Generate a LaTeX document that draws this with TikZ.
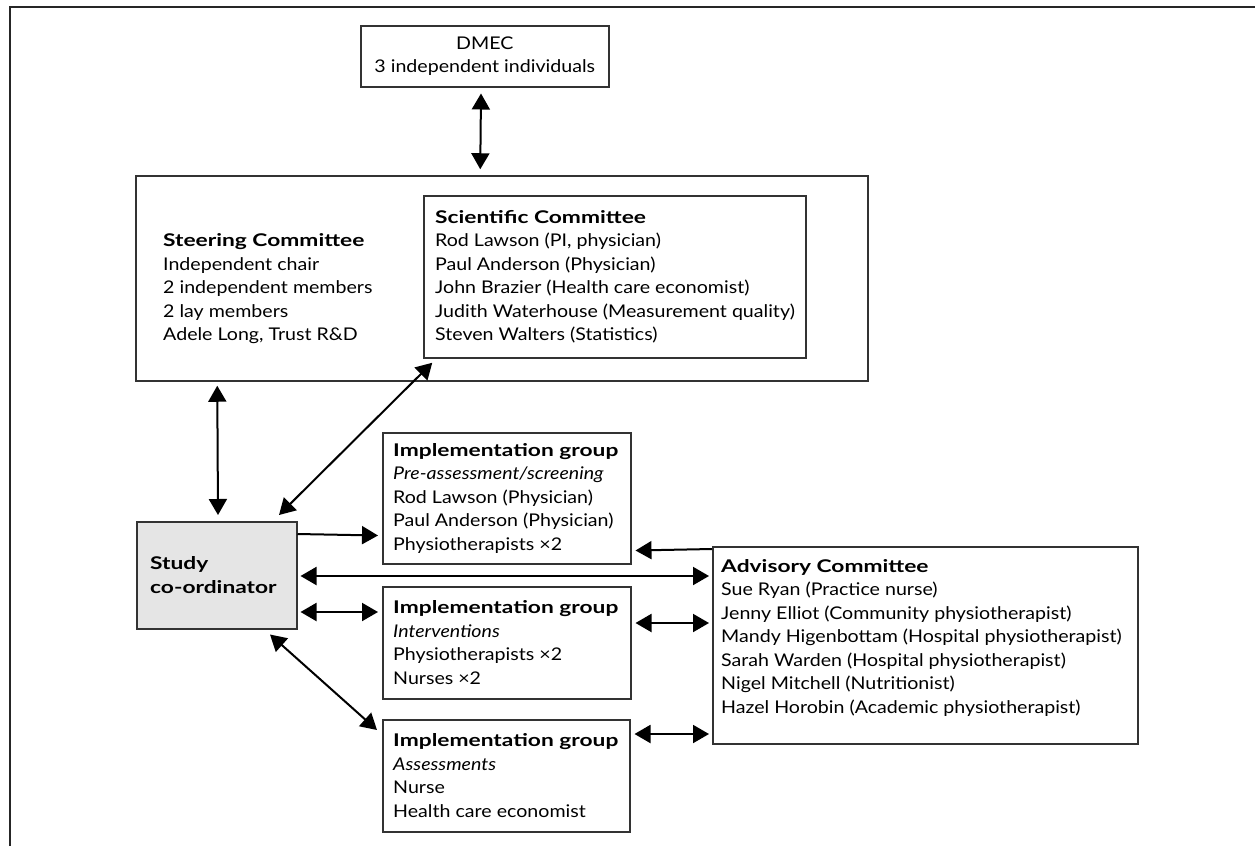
\documentclass[tikz,border=0pt]{standalone}
\usepackage{fontspec}
\setmainfont{Lato}[FakeStretch=1.12, BoldFeatures={FakeStretch=1.3}]
\usetikzlibrary{arrows.meta,calc,fit}
\begin{document}
\begin{tikzpicture}[x=1pt,y=-1pt,
  txt/.style={font=\fontsize{17.5}{23.5}\selectfont, inner sep=0pt, align=left},
  frame/.style={draw=black!80, line width=1.5pt, inner sep=0pt},
  box/.style={frame, anchor=north west},
  link/.style={line width=2pt,{Triangle[length=16pt,width=18pt]}-{Triangle[length=16pt,width=18pt]}},
  one/.style={line width=2pt,-{Triangle[length=16pt,width=18pt]}},
]
\useasboundingbox (0,0) rectangle (1255,846);
\draw[line width=2pt, black!85] (10,846) -- (10,7) -- (1255,7);

% DMEC
\node[box, minimum width=248pt, minimum height=61pt] (dmec) at (360,25) {};
\node[txt, align=center] (dmectext) at (dmec.center) {DMEC\\3 independent individuals};

% Scientific committee (inside steering)
\node[txt, anchor=west] (scitext) at (435,277)
  {\textbf{Scientific Committee}\\Rod Lawson (PI, physician)\\Paul Anderson (Physician)\\John Brazier (Health care economist)\\Judith Waterhouse (Measurement quality)\\Steven Walters (Statistics)};
\node[frame, fit={(424,196) ($(scitext.east)+(11,0)$) (424,358)}] (sci) {};

% Steering committee
\node[frame, fit={(136,176) ($(sci.east)+(61,0)$) (136,381)}] (steer) {};
\node[txt, anchor=west] (steertext) at (163,289)
  {\textbf{Steering Committee}\\Independent chair\\2 independent members\\2 lay members\\Adele Long, Trust R\&D};

% Study co-ordinator
\node[box, fill=black!10, minimum width=160pt, minimum height=107pt] (study) at (136,521) {};
\node[txt, anchor=west] (studytext) at ($(study.west)+(14,0)$) {\textbf{Study}\\\textbf{co-ordinator}};

% Implementation groups
\node[box, minimum width=248pt, minimum height=131pt] (imp1) at (382,432) {};
\node[txt, anchor=west] (imp1text) at ($(imp1.west)+(11,0)$)
  {\textbf{Implementation group}\\\textit{Pre-assessment/screening}\\Rod Lawson (Physician)\\Paul Anderson (Physician)\\Physiotherapists ×2};

\node[box, minimum width=248pt, minimum height=112pt] (imp2) at (382,586) {};
\node[txt, anchor=west] (imp2text) at ($(imp2.west)+(11,0)$)
  {\textbf{Implementation group}\\\textit{Interventions}\\Physiotherapists ×2\\Nurses ×2};

\node[box, minimum width=247pt, minimum height=112pt] (imp3) at (382,719) {};
\node[txt, anchor=west] (imp3text) at ($(imp3.west)+(11,0)$)
  {\textbf{Implementation group}\\\textit{Assessments}\\Nurse\\Health care economist};

% Advisory committee
\node[box, minimum width=425pt, minimum height=197pt] (adv) at (712,546) {};
\node[txt, anchor=north west] (advtext) at ($(adv.north west)+(9,13)$)
  {\textbf{Advisory Committee}\\Sue Ryan (Practice nurse)\\Jenny Elliot (Community physiotherapist)\\Mandy Higenbottam (Hospital physiotherapist)\\Sarah Warden (Hospital physiotherapist)\\Nigel Mitchell (Nutritionist)\\Hazel Horobin (Academic physiotherapist)};

% Connectors
\draw[link] ($(dmec.south west)+(121,6)$) -- ($(steer.north west)+(345,-6)$);
\draw[link] ($(steer.south west)+(82,4)$) -- ($(study.north west)+(82,-6)$);
\draw[link] ($(study.north west)+(143,-6)$) -- ($(sci.south west)+(9,4)$);
\draw[one] ($(study.north east)+(0,13)$) -- ($(imp1.south west)+(-4,-29)$);
\draw[one] ($(adv.north west)+(0,3)$) -- ($(imp1.south east)+(4,-14)$);
\draw[link] ($(study.north east)+(3,55)$) -- ($(adv.north west)+(-3,30)$);
\draw[link] ($(study.north east)+(3,91)$) -- ($(imp2.north west)+(-4,26)$);
\draw[link] ($(imp2.north east)+(4,37)$) -- ($(adv.north west)+(-3,77)$);
\draw[link] ($(imp3.north east)+(4,15)$) -- ($(adv.north west)+(-3,188)$);
\draw[link] ($(study.south west)+(134,5)$) -- ($(imp3.north west)+(-5,11)$);
\end{tikzpicture}
\end{document}
